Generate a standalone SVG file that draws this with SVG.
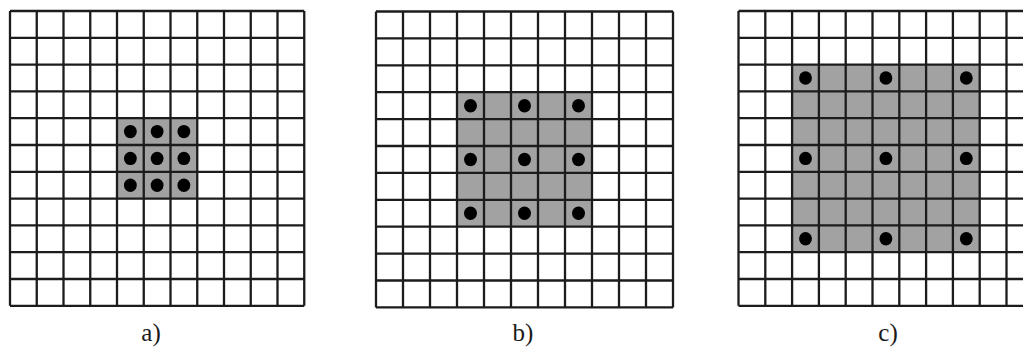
<svg xmlns="http://www.w3.org/2000/svg" width="1023" height="349" viewBox="0 0 1023 349">
<style>
.grid{fill:none;stroke:#1c1c1c;stroke-width:2.3}
.shade{fill:#a2a2a2}
.dot{fill:#000}
.lbl{font-family:"Liberation Serif","Times New Roman",serif;font-size:25px;fill:#1a1a1a;text-anchor:middle}
</style>
<defs>
<path id="gl" d="M0 0V11M1 0V11M2 0V11M3 0V11M4 0V11M5 0V11M6 0V11M7 0V11M8 0V11M9 0V11M10 0V11M11 0V11M0 0H11M0 1H11M0 2H11M0 3H11M0 4H11M0 5H11M0 6H11M0 7H11M0 8H11M0 9H11M0 10H11M0 11H11" vector-effect="non-scaling-stroke"/>
</defs>
<rect width="1023" height="349" fill="#fff"/>
<g id="grid-a" transform="translate(10,11) scale(26.75,26.8)">
<rect class="shade" x="4" y="4" width="3" height="3"/>
<use href="#gl" class="grid"/>
<g class="dot">
<ellipse cx="4.5" cy="4.5" rx="0.24" ry="0.25"/><ellipse cx="5.5" cy="4.5" rx="0.24" ry="0.25"/><ellipse cx="6.5" cy="4.5" rx="0.24" ry="0.25"/>
<ellipse cx="4.5" cy="5.5" rx="0.24" ry="0.25"/><ellipse cx="5.5" cy="5.5" rx="0.24" ry="0.25"/><ellipse cx="6.5" cy="5.5" rx="0.24" ry="0.25"/>
<ellipse cx="4.5" cy="6.5" rx="0.24" ry="0.25"/><ellipse cx="5.5" cy="6.5" rx="0.24" ry="0.25"/><ellipse cx="6.5" cy="6.5" rx="0.24" ry="0.25"/>
</g>
</g>
<g id="grid-b" transform="translate(376,11.5) scale(27,26.9)">
<rect class="shade" x="3" y="3" width="5" height="5"/>
<use href="#gl" class="grid"/>
<g class="dot">
<ellipse cx="3.5" cy="3.5" rx="0.24" ry="0.25"/><ellipse cx="5.5" cy="3.5" rx="0.24" ry="0.25"/><ellipse cx="7.5" cy="3.5" rx="0.24" ry="0.25"/>
<ellipse cx="3.5" cy="5.5" rx="0.24" ry="0.25"/><ellipse cx="5.5" cy="5.5" rx="0.24" ry="0.25"/><ellipse cx="7.5" cy="5.5" rx="0.24" ry="0.25"/>
<ellipse cx="3.5" cy="7.5" rx="0.24" ry="0.25"/><ellipse cx="5.5" cy="7.5" rx="0.24" ry="0.25"/><ellipse cx="7.5" cy="7.5" rx="0.24" ry="0.25"/>
</g>
</g>
<g id="grid-c" transform="translate(738.5,11) scale(26.8,26.8)">
<rect class="shade" x="2" y="2" width="7" height="7"/>
<use href="#gl" class="grid"/>
<g class="dot">
<ellipse cx="2.5" cy="2.5" rx="0.24" ry="0.25"/><ellipse cx="5.5" cy="2.5" rx="0.24" ry="0.25"/><ellipse cx="8.5" cy="2.5" rx="0.24" ry="0.25"/>
<ellipse cx="2.5" cy="5.5" rx="0.24" ry="0.25"/><ellipse cx="5.5" cy="5.5" rx="0.24" ry="0.25"/><ellipse cx="8.5" cy="5.5" rx="0.24" ry="0.25"/>
<ellipse cx="2.5" cy="8.5" rx="0.24" ry="0.25"/><ellipse cx="5.5" cy="8.5" rx="0.24" ry="0.25"/><ellipse cx="8.5" cy="8.5" rx="0.24" ry="0.25"/>
</g>
</g>
<g id="labels">
<text class="lbl" x="151" y="341">a)</text>
<text class="lbl" x="523" y="341">b)</text>
<text class="lbl" x="888" y="341">c)</text>
</g>
</svg>
